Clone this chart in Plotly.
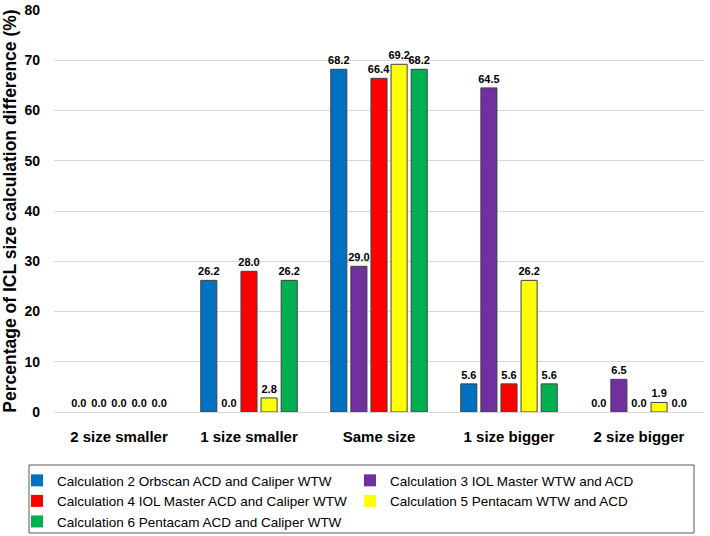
import plotly.graph_objects as go

categories = ["2 size smaller", "1 size smaller", "Same size", "1 size bigger", "2 size bigger"]
series_names = [
    "Calculation 2 Orbscan ACD and Caliper WTW",
    "Calculation 3 IOL Master WTW and ACD",
    "Calculation 4 IOL Master ACD and Caliper WTW",
    "Calculation 5 Pentacam WTW and ACD",
    "Calculation 6 Pentacam ACD and Caliper WTW",
]
calc2 = [0.0, 26.2, 68.2, 5.6, 0.0]
calc3 = [0.0, 0.0, 29.0, 64.5, 6.5]
calc4 = [0.0, 28.0, 66.4, 5.6, 0.0]
calc5 = [0.0, 2.8, 69.2, 26.2, 1.9]
calc6 = [0.0, 26.2, 68.2, 5.6, 0.0]
colors = ["#0070C0", "#7030A0", "#FF0000", "#FFFF00", "#00B050"]

fig = go.Figure()
for name, vals, col in zip(series_names, [calc2, calc3, calc4, calc5, calc6], colors):
    fig.add_trace(go.Bar(
        x=categories, y=vals, name=name,
        marker=dict(color=col, line=dict(color="#404040",
                                         width=[1 if v > 0 else 0 for v in vals])),
        text=[f"{v:.1f}" for v in vals], textposition="outside",
        textfont=dict(family="Liberation Sans", size=11, color="#000000", weight="bold"),
        constraintext="none", cliponaxis=False,
    ))

# legend frame (drawn as a shape so its size matches the reference box)
W, H = 710, 536
fig.add_shape(type="rect", xref="paper", yref="paper",
              x0=(29 - 54) / 650, x1=(694 - 54) / 650,
              y0=(412 - 533) / 402, y1=(412 - 465) / 402,
              line=dict(color="#595959", width=1), fillcolor="rgba(0,0,0,0)", layer="above")

fig.update_layout(
    width=W, height=H,
    margin=dict(l=54, r=6, t=10, b=124, autoexpand=False),
    paper_bgcolor="white", plot_bgcolor="white",
    barmode="group", bargap=0.227, bargroupgap=0.2,
    font=dict(family="Liberation Sans", color="#000000"),
    showlegend=True,
    legend=dict(
        orientation="h",
        x=(17 - 54) / 650, xanchor="left", y=-0.132, yanchor="top",
        font=dict(size=13.5, family="Liberation Sans"),
        entrywidth=288, entrywidthmode="pixels",
        borderwidth=0, bgcolor="rgba(0,0,0,0)",
        traceorder="normal",
    ),
    xaxis=dict(
        tickfont=dict(size=15, weight="bold"), showgrid=False, showline=False,
        ticks="", ticklabelstandoff=14, automargin=False,
    ),
    yaxis=dict(
        range=[0, 80], dtick=10, tickfont=dict(size=14, weight="bold"),
        showgrid=True, gridcolor="#D9D9D9", gridwidth=1,
        zeroline=True, zerolinecolor="#D9D9D9", zerolinewidth=1,
        showline=False, ticks="", ticklabelstandoff=13, automargin=False,
        title=dict(text="Percentage of ICL size calculation difference (%)",
                   font=dict(size=17.5, weight="bold"), standoff=5),
    ),
)

fig.write_html("out.html", config={"displayModeBar": False},
               post_script="document.body.style.margin='0px';document.body.style.overflow='hidden';")
